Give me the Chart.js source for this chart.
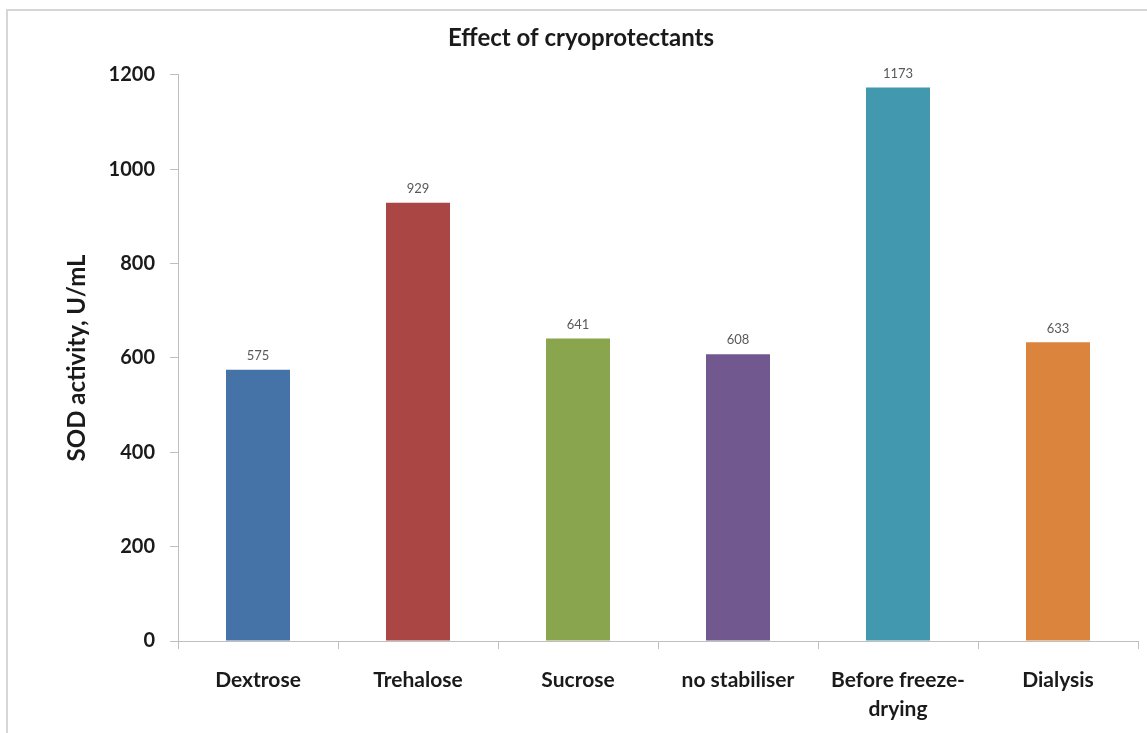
<!DOCTYPE html>
<html>
<head>
<meta charset="utf-8">
<script src="https://cdn.jsdelivr.net/npm/chart.js@4.4.1/dist/chart.umd.min.js"></script>
<style>
  html, body { margin: 0; padding: 0; background: #ffffff; overflow: hidden; width: 1147px; height: 733px; }
  #frame { position: absolute; left: 6px; top: 9px; width: 1200px; height: 800px; border: 2px solid #d6d6d6; box-sizing: border-box; }
  #wrap { position: absolute; left: 0; top: 0; width: 1165px; height: 733px; }
</style>
</head>
<body>
<div id="frame"></div>
<div id="wrap"><canvas id="chart"></canvas></div>
<script>
// SOD activity after freeze-drying with different cryoprotectants
const categories = ['Dextrose', 'Trehalose', 'Sucrose', 'no stabiliser', ['Before freeze-', 'drying'], 'Dialysis'];
const sodActivity = [575, 929, 641, 608, 1173, 633];
const barColors = ['#4572a7', '#aa4643', '#89a54e', '#71588f', '#4198af', '#db843d'];
const yTicks = [0, 200, 400, 600, 800, 1000, 1200];

const fontFamily = 'Lato, "Open Sans", "DejaVu Sans", sans-serif';

// Value labels above each bar
const valueLabels = {
  id: 'valueLabels',
  afterDatasetsDraw(chart) {
    const ctx = chart.ctx;
    const meta = chart.getDatasetMeta(0);
    ctx.save();
    ctx.font = '13px ' + fontFamily;
    ctx.fillStyle = '#595959';
    ctx.textAlign = 'center';
    ctx.textBaseline = 'middle';
    meta.data.forEach((bar, i) => {
      ctx.fillText(String(sodActivity[i]), bar.x, bar.y - 14);
    });
    ctx.restore();
  }
};

new Chart(document.getElementById('chart'), {
  type: 'bar',
  data: {
    labels: categories,
    datasets: [{
      data: sodActivity,
      backgroundColor: barColors,
      borderWidth: 0,
      barPercentage: 0.4,
      categoryPercentage: 1.0
    }]
  },
  options: {
    responsive: true,
    maintainAspectRatio: false,
    animation: false,
    layout: { padding: { left: 24, right: 27, top: 0, bottom: 0 } },
    plugins: {
      legend: { display: false },
      tooltip: { enabled: false },
      title: {
        display: true,
        text: 'Effect of cryoprotectants',
        color: '#1a1a1a',
        font: { family: fontFamily, size: 24, weight: 'bold', lineHeight: 1.2 },
        padding: { top: 24, bottom: 22 }
      }
    },
    scales: {
      x: {
        afterFit(scale) { scale.height = 92; },
        grid: {
          display: true,
          offset: true,
          drawOnChartArea: false,
          drawTicks: true,
          tickLength: 8,
          color: '#bfbfbf'
        },
        border: { display: true, color: '#bfbfbf', width: 1 },
        ticks: {
          color: '#1a1a1a',
          padding: 17,
          maxRotation: 0,
          autoSkip: false,
          font: { family: fontFamily, size: 21, weight: 'bold', lineHeight: 1.38 }
        }
      },
      y: {
        min: 0,
        max: 1200,
        afterFit(scale) { scale.width = 154; },
        afterBuildTicks(scale) { scale.ticks = yTicks.map(v => ({ value: v })); },
        grid: {
          display: true,
          drawOnChartArea: false,
          drawTicks: true,
          tickLength: 8,
          color: '#bfbfbf'
        },
        border: { display: true, color: '#bfbfbf', width: 1 },
        ticks: {
          color: '#1a1a1a',
          padding: 15,
          callback: (v) => String(v),
          font: { family: fontFamily, size: 20, weight: 'bold' }
        },
        title: {
          display: true,
          text: 'SOD activity, U/mL',
          color: '#1a1a1a',
          font: { family: fontFamily, size: 24, weight: 'bold', lineHeight: 1.2 },
          padding: { top: 39, bottom: 0 }
        }
      }
    }
  },
  plugins: [valueLabels]
});
</script>
</body>
</html>
